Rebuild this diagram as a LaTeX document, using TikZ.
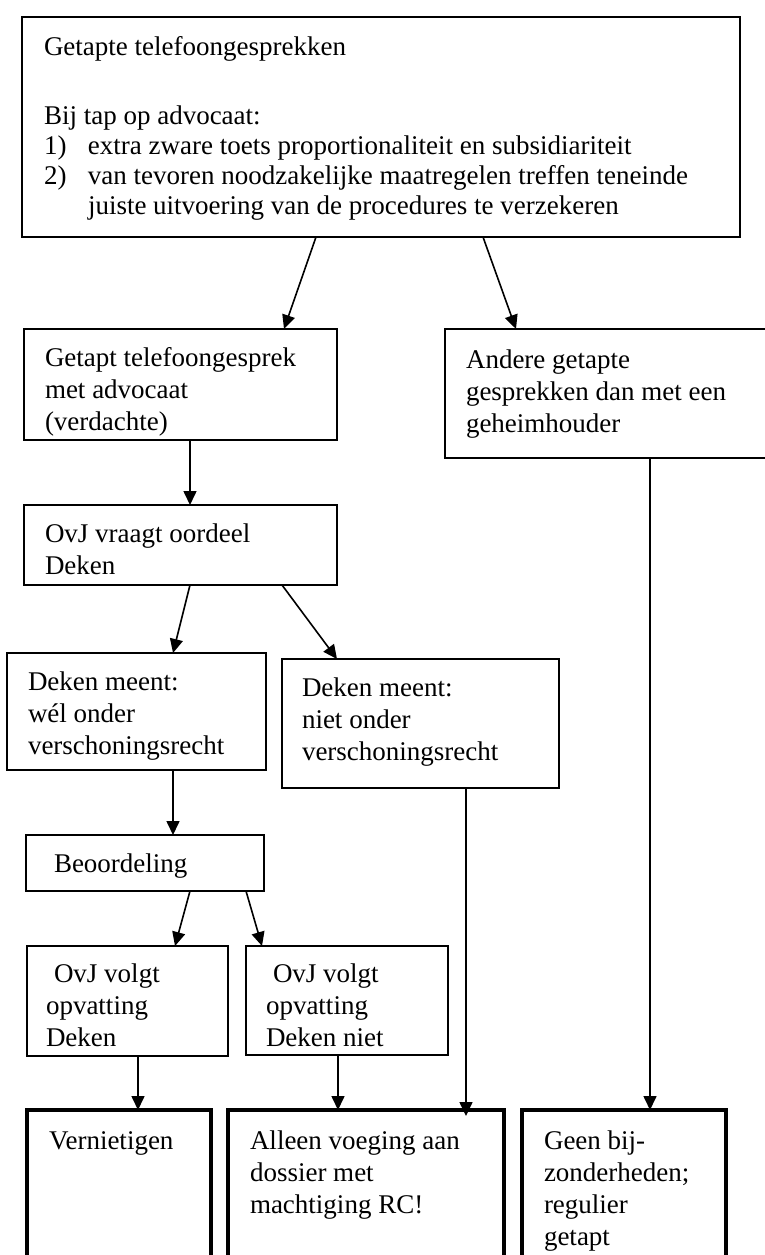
\documentclass[tikz,border=0pt]{standalone}
\usepackage{fontspec}
\setmainfont{Liberation Serif}
\usetikzlibrary{arrows.meta,calc}
\newcommand\diagfont{\fontsize{27}{32}\selectfont}
\newcommand\diagfonttop{\fontsize{27}{30}\selectfont}
\begin{document}
\begin{tikzpicture}[x=1pt,y=-1pt,
  box/.style={draw, line width=1.8pt, anchor=north west, inner sep=0pt, outer sep=0pt},
  endbox/.style={draw, line width=4.5pt, anchor=north west, inner sep=0pt, outer sep=0pt},
  txt/.style={anchor=north west, inner sep=0pt, outer sep=0pt, align=left, font=\diagfont},
  conn/.style={line width=1.6pt, -{Triangle[length=14pt,width=13pt]}}]
\useasboundingbox (0,0) rectangle (765,1255);
\clip (0,0) rectangle (765,1255);
% boxes
\node[box, minimum width=718pt, minimum height=220pt] (T) at (22,17) {};
\node[box, minimum width=313pt, minimum height=111pt] (A) at (24,329) {};
\node[box, minimum width=340pt, minimum height=129pt] (B) at (445,329) {};
\node[box, minimum width=313pt, minimum height=80pt] (C) at (24,505) {};
\node[box, minimum width=259pt, minimum height=117pt] (D) at (7,653) {};
\node[box, minimum width=277pt, minimum height=129pt] (E) at (282,659) {};
\node[box, minimum width=238pt, minimum height=56pt] (F) at (26,835) {};
\node[box, minimum width=201pt, minimum height=110pt] (G) at (27,946) {};
\node[box, minimum width=202pt, minimum height=109pt] (H) at (246,946) {};
\node[endbox, minimum width=184pt, minimum height=200pt] (I) at (27,1110) {};
\node[endbox, minimum width=276pt, minimum height=200pt] (J) at (228,1110) {};
\node[endbox, minimum width=204pt, minimum height=200pt] (K) at (522,1110) {};
% texts
\node[txt] (Tt) at (44,33) {\strut Getapte telefoongesprekken};
\node[txt, font=\diagfonttop] (Tl) at (44,103) {\strut Bij tap op advocaat:\\
\makebox[44pt][l]{1)}extra zware toets proportionaliteit en subsidiariteit\\
\makebox[44pt][l]{2)}van tevoren noodzakelijke maatregelen treffen teneinde\\
\hspace*{44pt}juiste uitvoering van de procedures te verzekeren};
\node[txt] (At) at (45,344) {\strut Getapt telefoongesprek\\ met advocaat\\ (verdachte)};
\node[txt] (Bt) at (466,346) {\strut Andere getapte\\ gesprekken dan met een\\ geheimhouder};
\node[txt] (Ct) at (45,520) {\strut OvJ vraagt oordeel\\ Deken};
\node[txt] (Dt) at (28,668) {\strut Deken meent:\\ wél onder\\ verschoningsrecht};
\node[txt] (Et) at (302,674) {\strut Deken meent:\\ niet onder\\ verschoningsrecht};
\node[txt] (Ft) at (54,850) {\strut Beoordeling};
\node[txt] (Gt) at (46,960) {\strut\hspace*{8pt}OvJ volgt\\ opvatting\\ Deken};
\node[txt] (Ht) at (266,960) {\strut\hspace*{7pt}OvJ volgt\\ opvatting\\ Deken niet};
\node[txt] (It) at (49,1127) {\strut Vernietigen};
\node[txt] (Jt) at (250,1127) {\strut Alleen voeging aan\\ dossier met\\ machtiging RC!};
\node[txt] (Kt) at (544,1127) {\strut Geen bij-\\ zonderheden;\\ regulier\\ getapt};
% connectors
\draw[conn] ($(T.south west)+(294,0)$) -- ($(A.north west)+(260,0)$);
\draw[conn] ($(T.south west)+(461,0)$) -- ($(B.north west)+(71,0)$);
\draw[conn] ($(A.south west)+(166,0)$) -- ($(C.north west)+(166,0)$);
\draw[conn] ($(C.south west)+(166,0)$) -- ($(D.north west)+(166,0)$);
\draw[conn] ($(C.south west)+(258,0)$) -- ($(E.north west)+(55,0)$);
\draw[conn] ($(D.south west)+(166,0)$) -- ($(F.north west)+(147,0)$);
\draw[conn] ($(F.south west)+(164,0)$) -- ($(G.north west)+(148,0)$);
\draw[conn] ($(F.south west)+(220,0)$) -- ($(H.north west)+(16,0)$);
\draw[conn] ($(G.south west)+(111,0)$) -- ($(I.north west)+(111,0)$);
\draw[conn] ($(H.south west)+(92,0)$) -- ($(J.north west)+(110,0)$);
\draw[conn] ($(E.south west)+(184,0)$) -- ($(J.north west)+(238,6)$);
\draw[conn] ($(B.south west)+(205,0)$) -- ($(K.north west)+(128,0)$);
\end{tikzpicture}
\end{document}
